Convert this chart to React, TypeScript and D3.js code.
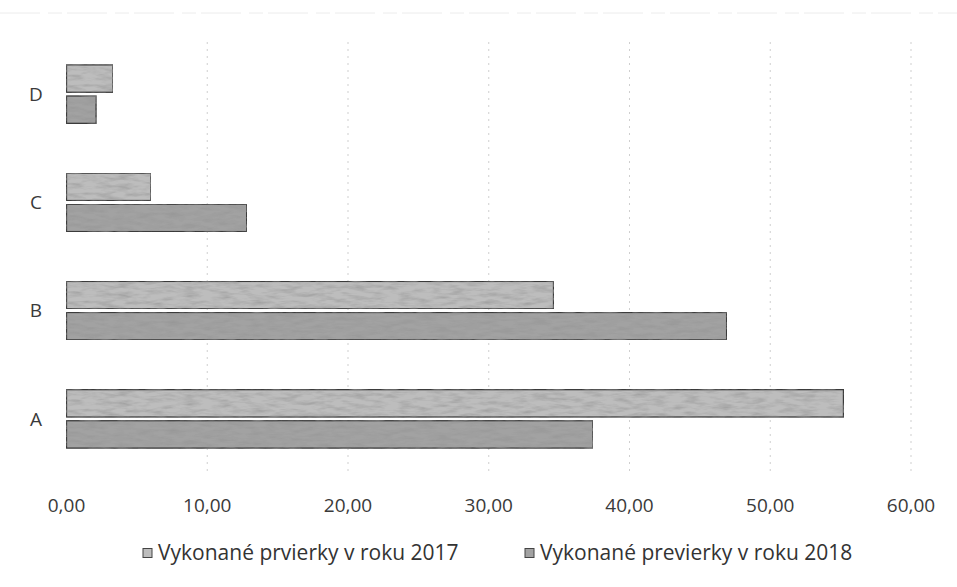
import * as d3 from 'd3';

const categories = ['D', 'C', 'B', 'A'];
const seriesNames = ['Vykonané prvierky v roku 2017', 'Vykonané previerky v roku 2018'];
const values2017 = [3.3, 6.0, 34.6, 55.2];
const values2018 = [2.1, 12.8, 46.9, 37.4];
const xTicks = [0, 10, 20, 30, 40, 50, 60];

const width = 957;
const height = 587;
const fills = ['#bdbdbd', '#a2a2a2'];
const font = "'Open Sans', 'Liberation Sans', sans-serif";

export default function App() {
  const x = d3.scaleLinear().domain([0, 60]).range([66.5, 911]);
  const y0 = d3
    .scaleBand()
    .domain(categories)
    .range([40, 473])
    .paddingInner(0.46)
    .paddingOuter(0.23);
  const y1 = d3
    .scaleBand()
    .domain(seriesNames)
    .range([0, y0.bandwidth()])
    .paddingInner(0.12);

  const series = [values2017, values2018];
  const fmt = (v) => d3.format('.2f')(v).replace('.', ',');

  return (
    <svg
      width={width}
      height={height}
      style={{ position: 'fixed', left: 0, top: 0, background: '#fff' }}
    >
      <defs>
        <filter id="grain" x="0" y="0" width="100%" height="100%">
          <feTurbulence type="fractalNoise" baseFrequency="0.06 0.25" numOctaves="3" seed="5" result="n" />
          <feColorMatrix
            in="n"
            type="matrix"
            values="0 0 0 0 0.3  0 0 0 0 0.3  0 0 0 0 0.3  0 0 0 1.4 -0.55"
            result="g"
          />
          <feComposite in="g" in2="SourceGraphic" operator="in" result="gc" />
          <feMerge>
            <feMergeNode in="SourceGraphic" />
            <feMergeNode in="gc" />
          </feMerge>
        </filter>
      </defs>

      {/* faint scan artefact at the top */}
      <line x1={0} x2={width} y1={13} y2={13} stroke="#ececec" strokeDasharray="40,8,14,5" />

      {/* dotted gridlines */}
      {xTicks.slice(1).map((t) => (
        <line
          key={t}
          x1={x(t)}
          x2={x(t)}
          y1={42}
          y2={475}
          stroke="#cfcfcf"
          strokeDasharray="2,5"
        />
      ))}

      {categories.map((c, i) => (
        <g key={c} transform={`translate(0, ${y0(c)})`}>
          {series.map((vals, s) => (
            <rect
              key={s}
              x={x(0)}
              y={y1(seriesNames[s])}
              width={x(vals[i]) - x(0)}
              height={y1.bandwidth()}
              fill={fills[s]}
              stroke="#3a3a3a"
              strokeWidth={1.3}
              filter="url(#grain)"
            />
          ))}
          <text
            x={36}
            y={y0.bandwidth() / 2}
            dy="0.35em"
            textAnchor="middle"
            fontFamily={font}
            fontSize={19}
            fill="#3a3a3a"
          >
            {c}
          </text>
        </g>
      ))}

      {xTicks.map((t) => (
        <text
          key={t}
          x={x(t)}
          y={505}
          dy="0.35em"
          textAnchor="middle"
          fontFamily={font}
          fontSize={19}
          fill="#3a3a3a"
        >
          {fmt(t)}
        </text>
      ))}

      {seriesNames.map((name, s) => {
        const lx = [143, 525][s];
        return (
          <g key={name} transform={`translate(${lx}, 553)`}>
            <rect x={0} y={-4.5} width={9} height={9} fill={fills[s]} stroke="#444" />
            <text
              x={15}
              y={0}
              dy="0.35em"
              fontFamily={font}
              fontSize={21}
              fill="#333"
            >
              {name}
            </text>
          </g>
        );
      })}
    </svg>
  );
}
